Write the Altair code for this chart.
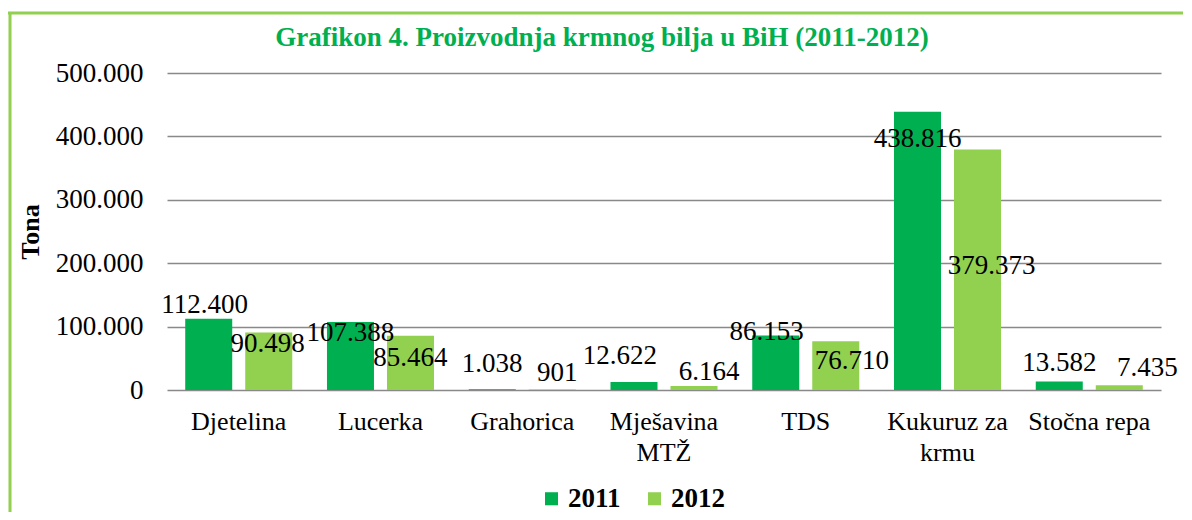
import altair as alt
import pandas as pd

categories = ["Djetelina", "Lucerka", "Grahorica", "Mješavina\nMTŽ", "TDS", "Kukuruz za\nkrmu", "Stočna repa"]
series = ["2011", "2012"]
values_2011 = [112400, 107388, 1038, 12622, 86153, 438816, 13582]
values_2012 = [90498, 85464, 901, 6164, 76710, 379373, 7435]
title_text = "Grafikon 4. Proizvodnja krmnog bilja u BiH (2011-2012)"
# label nudges in pixels (styling of the hand-placed data labels)
nudge_dx_2011 = [-4, 0, 0, -14, -9, 0, 0]
nudge_dy_2011 = [-14, 11, -25, -26, -3, 27, -18]
nudge_dx_2012 = [-1, 0, 5, 15, 16, 14, 28]
nudge_dy_2012 = [11, 22, -16, -14, 20, 117, -17]
colors = ["#00b050", "#92d050"]

rows = []
for i, c in enumerate(categories):
    rows.append({"cat": c, "series": "2011", "value": values_2011[i],
                 "ndx": nudge_dx_2011[i], "ndy": nudge_dy_2011[i]})
    rows.append({"cat": c, "series": "2012", "value": values_2012[i],
                 "ndx": nudge_dx_2012[i], "ndy": nudge_dy_2012[i]})
df = pd.DataFrame(rows)

FONT = "Liberation Serif"

x_enc = alt.X("cat:N", sort=categories, title=None,
              scale=alt.Scale(paddingInner=0.245, paddingOuter=0.1285),
              axis=alt.Axis(labelExpr="split(datum.value, '\\n')", labelAngle=0,
                            labelFont=FONT, labelFontSize=26, labelColor="#000000",
                            labelLineHeight=31, labelBaseline="top", labelPadding=18,
                            domain=False, ticks=False, grid=False))
xoff_enc = alt.XOffset("series:N", sort=series,
                       scale=alt.Scale(paddingInner=0.2167, paddingOuter=0))
y_enc = alt.Y("value:Q", scale=alt.Scale(domain=[0, 500000], nice=False),
              axis=alt.Axis(values=[0, 100000, 200000, 300000, 400000, 500000],
                            format=",d", title="Tona", titleFont=FONT, titleFontSize=26,
                            titleFontWeight="bold", titleColor="#000000", titlePadding=12,
                            labelFont=FONT, labelFontSize=27, labelColor="#000000",
                            labelPadding=24, domain=False, ticks=False,
                            grid=True, gridColor="#898989", gridWidth=1.3))

base = alt.Chart(df)

bars = base.mark_bar().encode(
    x=x_enc,
    xOffset=xoff_enc,
    y=y_enc,
    color=alt.Color("series:N", sort=series,
                    scale=alt.Scale(domain=series, range=colors),
                    legend=alt.Legend(title=None, orient="none", legendX=371, legendY=412,
                                      direction="horizontal", symbolType="square",
                                      symbolSize=170, symbolStrokeWidth=0,
                                      labelFont=FONT, labelFontSize=27, labelFontWeight="bold",
                                      labelColor="#000000", labelOffset=3, columnPadding=20)),
)

labels = base.mark_text(font=FONT, fontSize=27, color="#000000", baseline="middle",
                        align="center",
                        dx=alt.expr("datum.ndx"), dy=alt.expr("datum.ndy")).encode(
    x=alt.X("cat:N", sort=categories),
    xOffset=alt.XOffset("series:N", sort=series),
    y=alt.Y("value:Q"),
    text=alt.Text("value:Q", format=",d"),
)

frame = pd.DataFrame({"k": [0]})
title_mark = alt.Chart(pd.DataFrame({"t": [title_text]})).mark_text(
    font=FONT, fontSize=27, fontWeight="bold", color="#00b050",
    align="center", baseline="alphabetic").encode(
    text="t:N", x=alt.value(435), y=alt.value(-27))
top_border = alt.Chart(frame).mark_rule(color="#92d050", strokeWidth=3).encode(
    x=alt.value(-159), x2=alt.value(1040), y=alt.value(-60))
left_border = alt.Chart(frame).mark_rule(color="#92d050", strokeWidth=3).encode(
    x=alt.value(-157), y=alt.value(-60), y2=alt.value(460))

chart = alt.layer(bars, labels, title_mark, top_border, left_border).properties(
    width=994, height=317,
    padding={"left": 159, "top": 65, "right": 22, "bottom": 122},
    autosize=alt.AutoSizeParams(type="none"),
).configure(
    locale={"number": {"decimal": ",", "thousands": ".", "grouping": [3],
                       "currency": ["", ""]}}
).configure_view(stroke=None)

chart.save("out.html", embed_options={"renderer": "svg", "actions": False})
